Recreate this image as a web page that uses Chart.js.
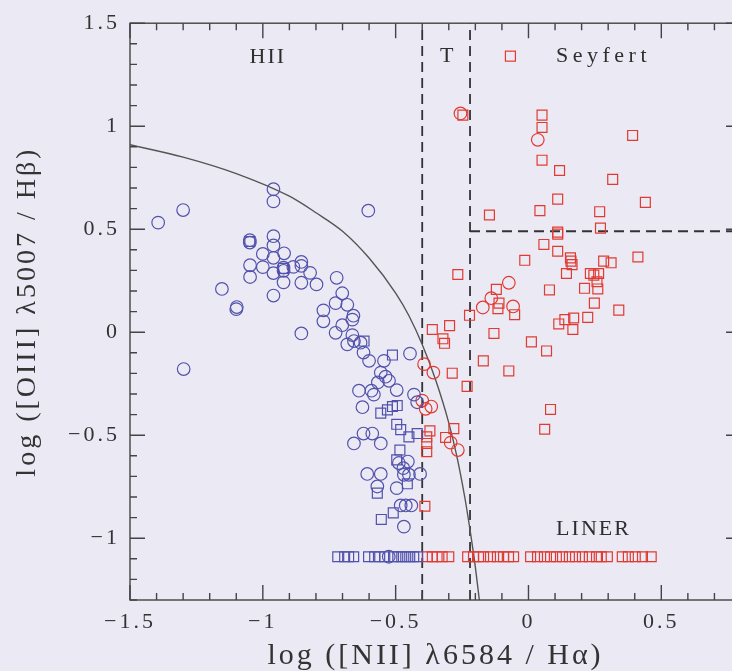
<!DOCTYPE html>
<html>
<head>
<meta charset="utf-8">
<script src="https://cdn.jsdelivr.net/npm/chart.js@4.4.0/dist/chart.umd.min.js"></script>
<style>
  html, body { margin: 0; padding: 0; overflow: hidden; background: #eae9f4; }
  canvas { display: block; }
</style>
</head>
<body>
<canvas id="bpt" width="760" height="671"></canvas>
<script>
// axis limits
const xMin = -1.5, xMax = 0.8;
const yMin = -1.3, yMax = 1.5;

// class boundaries
const hiiLimitX = -0.4;
const seyfertLimitX = -0.22;
const seyfertLimitY = 0.49;

// demarcation curve, read along its length
const curveX = [-1.5, -1.3, -1.1, -0.9, -0.8, -0.7, -0.6, -0.5, -0.45, -0.4, -0.35, -0.3, -0.27, -0.24, -0.22, -0.2, -0.185];
const curveY = [0.91, 0.85, 0.77, 0.66, 0.58, 0.49, 0.36, 0.19, 0.08, -0.06, -0.23, -0.44, -0.60, -0.80, -0.96, -1.14, -1.30];

// HII galaxies, circles
const hiiCircles = [
  [-1.394, 0.532], [-1.300, 0.593], [-1.298, -0.179], [-0.960, 0.694], [-0.960, 0.635],
  [-0.603, 0.590], [-1.049, 0.447], [-1.049, 0.435], [-0.960, 0.466], [-0.960, 0.421],
  [-1.000, 0.380], [-0.920, 0.383], [-0.960, 0.361], [-0.922, 0.313], [-0.922, 0.298],
  [-0.855, 0.341], [-0.855, 0.322], [-0.885, 0.317], [-1.000, 0.316], [-1.048, 0.325],
  [-1.048, 0.268], [-0.960, 0.287], [-0.922, 0.242], [-0.855, 0.240], [-0.822, 0.288],
  [-0.798, 0.232], [-1.154, 0.210], [-0.960, 0.178], [-1.098, 0.122], [-1.100, 0.112],
  [-0.772, 0.106], [-0.772, 0.053], [-0.855, -0.006], [-0.722, 0.264], [-0.701, 0.189],
  [-0.726, 0.141], [-0.682, 0.133], [-0.659, 0.080], [-0.663, 0.061], [-0.701, 0.034],
  [-0.726, -0.003], [-0.663, -0.014], [-0.682, -0.059], [-0.632, -0.051], [-0.657, -0.043],
  [-0.621, -0.099], [-0.600, -0.139], [-0.544, -0.139], [-0.446, -0.104], [-0.556, -0.196],
  [-0.538, -0.216], [-0.525, -0.236], [-0.567, -0.244], [-0.638, -0.284], [-0.591, -0.284],
  [-0.582, -0.303], [-0.496, -0.281], [-0.431, -0.303], [-0.419, -0.340], [-0.625, -0.364],
  [-0.657, -0.540], [-0.621, -0.492], [-0.588, -0.492], [-0.556, -0.540], [-0.488, -0.635],
  [-0.471, -0.660], [-0.454, -0.628], [-0.469, -0.692], [-0.450, -0.692], [-0.408, -0.688],
  [-0.607, -0.688], [-0.556, -0.688], [-0.569, -0.749], [-0.496, -0.757], [-0.481, -0.841],
  [-0.462, -0.841], [-0.441, -0.841], [-0.469, -0.944]
];

// HII galaxies, squares
const hiiSquares = [
  [-1.049, 0.440], [-0.922, 0.310], [-0.619, -0.043], [-0.512, -0.111], [-0.556, -0.393],
  [-0.531, -0.377], [-0.512, -0.361], [-0.494, -0.356], [-0.496, -0.447], [-0.481, -0.473],
  [-0.450, -0.508], [-0.419, -0.492], [-0.484, -0.572], [-0.496, -0.620], [-0.456, -0.736],
  [-0.569, -0.781], [-0.509, -0.877], [-0.554, -0.909]
];

// AGN, circles
const agnCircles = [
  [-0.256, 1.062], [0.035, 0.934], [-0.172, 0.120], [-0.074, 0.240], [-0.140, 0.165],
  [-0.058, 0.125], [-0.393, -0.155], [-0.358, -0.196], [-0.400, -0.332], [-0.387, -0.372],
  [-0.366, -0.361], [-0.293, -0.536], [-0.266, -0.572]
];

// AGN, squares
const agnSquares = [
  [-0.247, 1.054], [0.051, 1.054], [0.051, 0.994], [0.392, 0.955], [0.051, 0.835],
  [0.117, 0.785], [0.317, 0.742], [0.110, 0.646], [0.440, 0.630], [-0.147, 0.569],
  [0.043, 0.590], [0.268, 0.585], [0.271, 0.505], [0.110, 0.486], [0.110, 0.476],
  [0.058, 0.426], [0.110, 0.393], [-0.014, 0.349], [0.158, 0.361], [0.160, 0.345],
  [0.164, 0.328], [0.283, 0.345], [0.311, 0.337], [0.412, 0.365], [0.143, 0.285],
  [0.233, 0.285], [0.264, 0.285], [0.246, 0.277], [0.258, 0.245], [0.211, 0.213],
  [0.261, 0.210], [0.079, 0.205], [0.248, 0.141], [0.340, 0.107], [0.223, 0.072],
  [0.170, 0.069], [0.137, 0.061], [0.114, 0.040], [0.167, 0.013], [0.011, -0.047],
  [0.068, -0.091], [-0.130, -0.006], [-0.170, -0.139], [-0.074, -0.188], [0.083, -0.375],
  [0.061, -0.471], [-0.121, 0.208], [-0.111, 0.141], [-0.115, 0.114], [-0.052, 0.085],
  [-0.222, 0.082], [-0.266, 0.280], [-0.362, 0.013], [-0.297, 0.032], [-0.322, -0.032],
  [-0.316, -0.054], [-0.287, -0.199], [-0.231, -0.263], [-0.371, -0.479], [-0.383, -0.508],
  [-0.383, -0.540], [-0.383, -0.580], [-0.281, -0.468], [-0.312, -0.511], [-0.390, -0.845]
];

// objects without a measured [OIII]/Hbeta, placed on one row
const limitY = -1.09;
const blueLimitX = [-0.718, -0.692, -0.677, -0.658, -0.602, -0.579, -0.560, -0.541, -0.508,
  -0.492, -0.477, -0.462, -0.447, -0.432, -0.417];
const blueLimitCircleX = [-0.526];
const redLimitX = [-0.381, -0.362, -0.344, -0.325, -0.300, -0.229, -0.207, -0.188, -0.169,
  -0.143, -0.117, -0.094, -0.075, -0.056, 0.008, 0.034, 0.060, 0.083, 0.105, 0.128, 0.154,
  0.177, 0.203, 0.229, 0.256, 0.274, 0.297, 0.353, 0.376, 0.402, 0.429, 0.462];

const blue = 'rgb(82, 82, 172)';
const red = 'rgb(226, 58, 48)';
const ink = '#333';
const serif = '"Liberation Serif", "Times New Roman", serif';

const pts = arr => arr.map(p => ({x: p[0], y: p[1]}));
const row = arr => arr.map(x => ({x: x, y: limitY}));

const marker = (color, style, r) => ({
  pointStyle: style,
  pointRadius: r,
  pointHoverRadius: r,
  borderColor: color,
  backgroundColor: 'rgba(0,0,0,0)',
  pointBorderWidth: 1.2,
  showLine: false
});

const guide = (data, dash, color, width) => ({
  data: data,
  showLine: true,
  pointRadius: 0,
  borderColor: color,
  borderWidth: width,
  borderDash: dash,
  fill: false
});

const minus = v => (v < 0 ? '\u2212' : '') + Math.abs(v);

// frame with inward ticks on all four sides, plus the region labels
const frame = {
  id: 'frame',
  beforeDraw(chart) {
    chart.ctx.letterSpacing = '3px';
  },
  afterDraw(chart) {
    const {ctx, chartArea: a, scales: {x, y}} = chart;
    ctx.save();
    ctx.strokeStyle = '#444';
    ctx.lineWidth = 1.4;
    ctx.setLineDash([]);
    ctx.strokeRect(a.left, a.top, a.right - a.left, a.bottom - a.top);
    ctx.beginPath();
    for (let i = Math.round(xMin * 10); i <= Math.round(xMax * 10); i++) {
      const px = x.getPixelForValue(i / 10);
      const len = i % 5 === 0 ? 15 : 7;
      ctx.moveTo(px, a.bottom); ctx.lineTo(px, a.bottom - len);
      ctx.moveTo(px, a.top); ctx.lineTo(px, a.top + len);
    }
    for (let i = Math.round(yMin * 10); i <= Math.round(yMax * 10); i++) {
      const py = y.getPixelForValue(i / 10);
      const len = i % 5 === 0 ? 15 : 7;
      ctx.moveTo(a.left, py); ctx.lineTo(a.left + len, py);
      ctx.moveTo(a.right, py); ctx.lineTo(a.right - len, py);
    }
    ctx.stroke();

    ctx.fillStyle = '#2e2e2e';
    ctx.textAlign = 'center';
    ctx.textBaseline = 'middle';
    const label = (s, xv, yv, size, sp) => {
      ctx.font = size + 'px ' + serif;
      ctx.letterSpacing = sp + 'px';
      ctx.fillText(s, x.getPixelForValue(xv) + sp / 2, y.getPixelForValue(yv));
    };
    label('HII', -0.985, 1.335, 22, 2);
    label('T', -0.308, 1.34, 22, 0);
    label('Seyfert', 0.274, 1.34, 22, 4.5);
    label('LINER', 0.241, -0.955, 22, 2);

    // key symbol next to the Seyfert label
    const kx = x.getPixelForValue(-0.068), ky = y.getPixelForValue(1.34);
    ctx.strokeStyle = red;
    ctx.lineWidth = 1.2;
    ctx.strokeRect(kx - 5, ky - 5, 10, 10);
    ctx.restore();
  }
};

new Chart(document.getElementById('bpt'), {
  type: 'scatter',
  data: {
    datasets: [
      Object.assign({data: pts(hiiCircles).concat(row(blueLimitCircleX))}, marker(blue, 'circle', 6.3)),
      Object.assign({data: pts(hiiSquares).concat(row(blueLimitX))}, marker(blue, 'rect', 7)),
      Object.assign({data: pts(agnCircles)}, marker(red, 'circle', 6.3)),
      Object.assign({data: pts(agnSquares).concat(row(redLimitX))}, marker(red, 'rect', 7)),
      Object.assign(guide(curveX.map((v, i) => ({x: v, y: curveY[i]})), [], '#555', 1.4),
        {cubicInterpolationMode: 'monotone'}),
      guide([{x: hiiLimitX, y: yMin}, {x: hiiLimitX, y: yMax}], [10, 6], '#333', 1.8),
      guide([{x: seyfertLimitX, y: yMin}, {x: seyfertLimitX, y: yMax}], [10, 6], '#333', 1.8),
      guide([{x: seyfertLimitX, y: seyfertLimitY}, {x: xMax, y: seyfertLimitY}], [10, 6], '#333', 1.8)
    ]
  },
  options: {
    responsive: false,
    animation: false,
    events: [],
    layout: {padding: {top: 19, right: 19, left: 0, bottom: 0}},
    plugins: {legend: {display: false}, tooltip: {enabled: false}},
    scales: {
      x: {
        type: 'linear',
        min: xMin,
        max: xMax,
        grid: {display: false, drawTicks: false},
        border: {display: false},
        ticks: {
          stepSize: 0.5,
          includeBounds: false,
          autoSkip: false,
          maxRotation: 0,
          padding: 9,
          color: ink,
          font: {family: serif, size: 22},
          callback: minus
        },
        title: {
          display: true,
          text: 'log ([NII] \u03bb6584 / H\u03b1)',
          color: ink,
          font: {family: serif, size: 30, lineHeight: 1},
          padding: 0
        },
        afterFit(scale) { scale.height = 71; }
      },
      y: {
        type: 'linear',
        min: yMin,
        max: yMax,
        grid: {display: false, drawTicks: false},
        border: {display: false},
        ticks: {
          stepSize: 0.5,
          includeBounds: false,
          padding: 10,
          color: ink,
          font: {family: serif, size: 22},
          callback: minus
        },
        title: {
          display: true,
          text: 'log ([OIII] \u03bb5007 / H\u03b2)',
          color: ink,
          font: {family: serif, size: 28, lineHeight: 1},
          padding: {top: 14, bottom: 0}
        },
        afterFit(scale) { scale.width = 130; }
      }
    }
  },
  plugins: [frame]
});
</script>
</body>
</html>
